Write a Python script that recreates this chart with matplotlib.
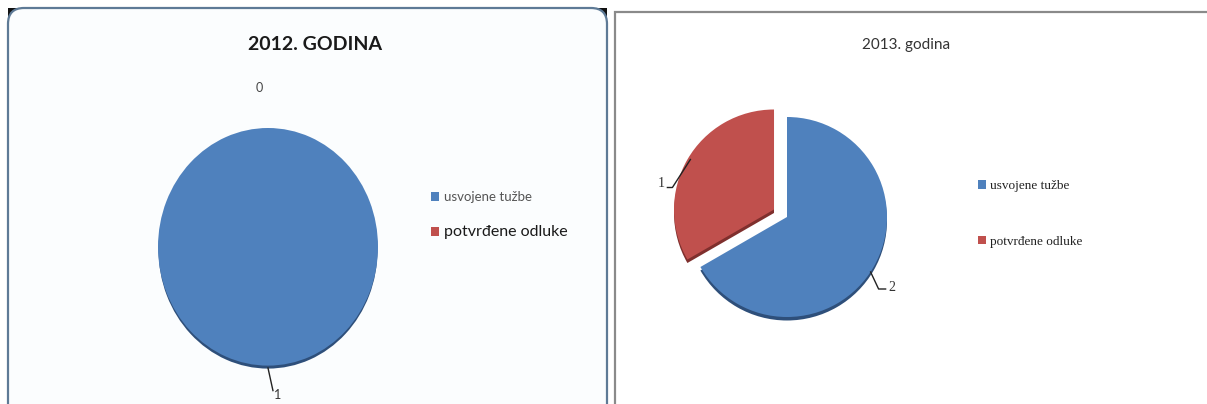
import numpy as np
import matplotlib.pyplot as plt
from matplotlib.patches import FancyBboxPatch, Rectangle, Patch

W, H = 1207, 404

# podaci
categories = ['usvojene tužbe', 'potvrđene odluke']
values_2012 = [1, 0]
values_2013 = [2, 1]
title_2012 = '2012. GODINA'
title_2013 = '2013. godina'

blue = '#4F81BD'
red = '#C0504D'
blue_dark = '#2E4F7A'
red_dark = '#7F2F2D'


def fx(x):
    return x / W


def fy(y):
    return 1 - y / H


def box(x0, y0, x1, y1):
    # pikselni okvir (gore-lijevo ishodiste) -> [left, bottom, width, height]
    return [fx(x0), fy(y1), (x1 - x0) / W, (y1 - y0) / H]


fig = plt.figure(figsize=(W / 100, H / 100), dpi=100)
fig.patch.set_facecolor('white')

# okviri panela
bg = fig.add_axes([0, 0, 1, 1])
bg.set_xlim(0, W)
bg.set_ylim(H, 0)
bg.axis('off')
bg.add_patch(Rectangle((8, 8), 599, 420, facecolor='#111111', edgecolor='none'))
bg.add_patch(FancyBboxPatch((8, 8), 599, 420, boxstyle='round,pad=0,rounding_size=16',
                            facecolor='#FBFDFE', edgecolor='#5E7A96', linewidth=1.6))
bg.add_patch(Rectangle((615, 12), 620, 420, facecolor='white', edgecolor='#8A8A8A', linewidth=1.6))

# ---------- 2012 ----------
fig.text(fx(315), fy(45), title_2012, ha='center', va='center',
         fontsize=14, fontweight='bold', family='Lato', color='#1A1A1A')

ax1 = fig.add_axes(box(158, 128, 378, 368))
ax1.pie(values_2012, colors=[blue_dark, red_dark], startangle=90, counterclock=False,
        center=(0, -0.03), radius=0.995, frame=True)
wedges1, _ = ax1.pie(values_2012, colors=[blue, red], startangle=90, counterclock=False,
                     radius=1.0, frame=True)
ax1.set_aspect('auto')
ax1.set_xlim(-1, 1)
ax1.set_ylim(-1.02, 1)
ax1.axis('off')
for w, v in zip(wedges1, values_2012):
    mid = np.deg2rad((w.theta1 + w.theta2) / 2)
    ex, ey = np.cos(mid), np.sin(mid)
    if v == 0:
        ax1.text(ex * 0.08 - 0.08, ey * 1.34, str(v), ha='center', va='center',
                 fontsize=9, color='#444444', family='Lato')
    else:
        ax1.plot([ex, ex + 0.045], [ey - 0.02, ey * 1.21], color='#222222', lw=1,
                 clip_on=False)
        ax1.text(ex + 0.09, ey * 1.25, str(v), ha='center', va='center',
                 fontsize=9, color='#333333', family='Lato')

leg1 = fig.legend(handles=[Patch(facecolor=blue, label=categories[0]),
                           Patch(facecolor=red, label=categories[1])],
                  loc='upper left', bbox_to_anchor=(fx(431), fy(191)), frameon=False,
                  handlelength=0.6, handleheight=0.6, handletextpad=0.3,
                  labelspacing=1.6, borderpad=0, borderaxespad=0,
                  prop={'family': 'Lato', 'size': 10})
t1, t2 = leg1.get_texts()
t1.set_color('#555555')
t1.set_fontsize(9.5)
t2.set_color('#1A1A1A')
t2.set_fontsize(11.5)

# ---------- 2013 ----------
fig.text(fx(906), fy(45), title_2013, ha='center', va='center',
         fontsize=11, family='Lato', color='#333333')

ax2 = fig.add_axes(box(787 - 130, 217 - 130, 787 + 130, 217 + 130))
explode = [0, 0.15]
ax2.pie(values_2013, colors=[blue_dark, red_dark], startangle=90, counterclock=False,
        explode=explode, center=(0, -0.035), frame=True)
wedges2, _ = ax2.pie(values_2013, colors=[blue, red], startangle=90, counterclock=False,
                     explode=explode, frame=True)
ax2.set_xlim(-1.3, 1.3)
ax2.set_ylim(-1.3, 1.3)
ax2.axis('off')

for w, v, e in zip(wedges2, values_2013, explode):
    mid = np.deg2rad((w.theta1 + w.theta2) / 2)
    cx, cy = e * np.cos(mid), e * np.sin(mid)
    ex, ey = cx + np.cos(mid), cy + np.sin(mid)
    if ex > 0:
        px = [ex - 0.03, ex + 0.05, ex + 0.12]
        py = [ey - 0.05, ey - 0.22, ey - 0.22]
        ax2.plot(px, py, color='#222222', lw=1, clip_on=False)
        ax2.text(px[-1] + 0.03, py[-1] + 0.02, str(v), ha='left', va='center',
                 fontsize=10, family='Liberation Serif', color='#333333')
    else:
        px = [ex + 0.03, ex - 0.15, ex - 0.2]
        py = [ey, ey - 0.28, ey - 0.28]
        ax2.plot(px, py, color='#222222', lw=1, clip_on=False)
        ax2.text(px[-1] - 0.03, py[-1] + 0.04, str(v), ha='right', va='center',
                 fontsize=10, family='Liberation Serif', color='#333333')

leg2 = fig.legend(handles=[Patch(facecolor=blue, label=categories[0]),
                           Patch(facecolor=red, label=categories[1])],
                  loc='upper left', bbox_to_anchor=(fx(978), fy(180)), frameon=False,
                  handlelength=0.6, handleheight=0.6, handletextpad=0.3,
                  labelspacing=3.3, borderpad=0, borderaxespad=0,
                  prop={'family': 'Liberation Serif', 'size': 9.5})
for t in leg2.get_texts():
    t.set_color('#222222')

fig.savefig('out.png', dpi=100)
